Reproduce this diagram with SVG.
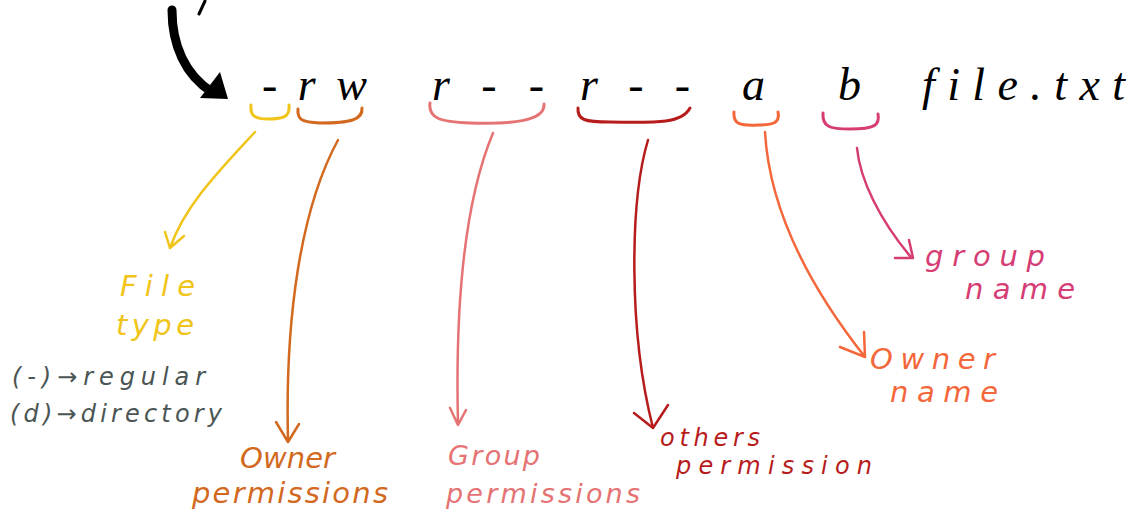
<svg xmlns="http://www.w3.org/2000/svg" width="1137" height="523" viewBox="0 0 1137 523">
<style>
text{font-family:"Liberation Serif",serif;font-style:italic}
.main{font-size:46px;fill:#000}
.lbl{font-size:29px;font-family:"DejaVu Sans","Liberation Sans",sans-serif;font-style:oblique}
.br{fill:none;stroke-width:3;stroke-linecap:round;stroke-linejoin:round}
.ar{fill:none;stroke-width:2.5;stroke-linecap:round;stroke-linejoin:round}
</style>
<rect width="1137" height="523" fill="#fff"/>
<g id="pointer">
<path d="M205,1 L199,14" stroke="#000" stroke-width="3" stroke-linecap="round" fill="none"/>
<path d="M172,10 C172,45 185,75 212,92" stroke="#000" stroke-width="9" fill="none" stroke-linecap="round"/>
<path d="M200,98 L228,99 L220,72 Z" fill="#000"/>
</g>
<g id="command">
<text class="main" x="262" y="100" textLength="105" lengthAdjust="spacing">-rw</text>
<text class="main" x="432" y="100" textLength="112" lengthAdjust="spacing">r--</text>
<text class="main" x="580" y="100" textLength="110" lengthAdjust="spacing">r--</text>
<text class="main" x="742" y="100">a</text>
<text class="main" x="838" y="100">b</text>
<text class="main" x="922" y="100" textLength="203" lengthAdjust="spacing">file.txt</text>
</g>
<g id="braces">
<path class="br" stroke="#f0c419" d="M251,105 C250,116 255,119 268,119 C285,119 290,116 289,105"/>
<path class="br" stroke="#d2691e" d="M298,109 C297,120 302,122 320,123 C350,123 363,120 362,108"/>
<path class="br" stroke="#e57373" d="M430,103 C428,118 440,122 470,123 C510,124 545,122 544,104"/>
<path class="br" stroke="#b71c1c" d="M578,108 C577,120 585,122 610,122 C660,123 682,123 690,108"/>
<path class="br" stroke="#f4673a" d="M734,112 C733,124 740,126 758,125 C775,125 780,122 778,112"/>
<path class="br" stroke="#d63d74" d="M823,113 C822,127 830,129 850,129 C875,129 880,125 878,114"/>
</g>
<g id="connectors">
<path class="ar" stroke="#f0c419" d="M255,132 C220,170 185,205 170,248 M165,232 L170,248 L184,236"/>
<path class="ar" stroke="#d2691e" d="M338,140 C300,210 285,320 288,440 M276,422 L288,442 L299,424"/>
<path class="ar" stroke="#e57373" d="M493,133 C465,200 455,300 458,424 M450,408 L458,425 L466,410"/>
<path class="ar" stroke="#b71c1c" d="M648,140 C630,200 628,330 653,428 M634,413 L653,428 L668,405"/>
<path class="ar" stroke="#f4673a" d="M765,132 C770,220 820,300 865,357 M840,347 L865,357 L864,332"/>
<path class="ar" stroke="#d63d74" d="M857,148 C860,180 880,220 910,256 M895,258 L913,258 L909,240"/>
</g>
<g id="file-type">
<text class="lbl" x="120" y="296" fill="#f0c419" textLength="75" lengthAdjust="spacing">File</text>
<text class="lbl" x="116" y="335" fill="#f0c419" textLength="78" lengthAdjust="spacing">type</text>
<text class="lbl" x="12" y="385" fill="#4a5554" style="font-size:24px" textLength="193" lengthAdjust="spacing">(-)→regular</text>
<text class="lbl" x="10" y="422" fill="#4a5554" style="font-size:24px" textLength="212" lengthAdjust="spacing">(d)→directory</text>
</g>
<g id="owner-permissions">
<text class="lbl" x="240" y="468" fill="#d2691e" textLength="95" lengthAdjust="spacing">Owner</text>
<text class="lbl" x="192" y="503" fill="#d2691e" textLength="196" lengthAdjust="spacing">permissions</text>
</g>
<g id="group-permissions">
<text class="lbl" x="448" y="465" fill="#e57373" style="font-size:27px" textLength="92" lengthAdjust="spacing">Group</text>
<text class="lbl" x="446" y="503" fill="#e57373" style="font-size:27px" textLength="194" lengthAdjust="spacing">permissions</text>
</g>
<g id="others-permission">
<text class="lbl" x="660" y="446" fill="#b71c1c" style="font-size:24px" textLength="100" lengthAdjust="spacing">others</text>
<text class="lbl" x="676" y="474" fill="#b71c1c" style="font-size:24px" textLength="196" lengthAdjust="spacing">permission</text>
</g>
<g id="owner-name">
<text class="lbl" x="870" y="369" fill="#f4673a" textLength="125" lengthAdjust="spacing">Owner</text>
<text class="lbl" x="890" y="402" fill="#f4673a" textLength="108" lengthAdjust="spacing">name</text>
</g>
<g id="group-name">
<text class="lbl" x="925" y="266" fill="#d63d74" textLength="120" lengthAdjust="spacing">group</text>
<text class="lbl" x="965" y="299" fill="#d63d74" textLength="110" lengthAdjust="spacing">name</text>
</g>
</svg>
